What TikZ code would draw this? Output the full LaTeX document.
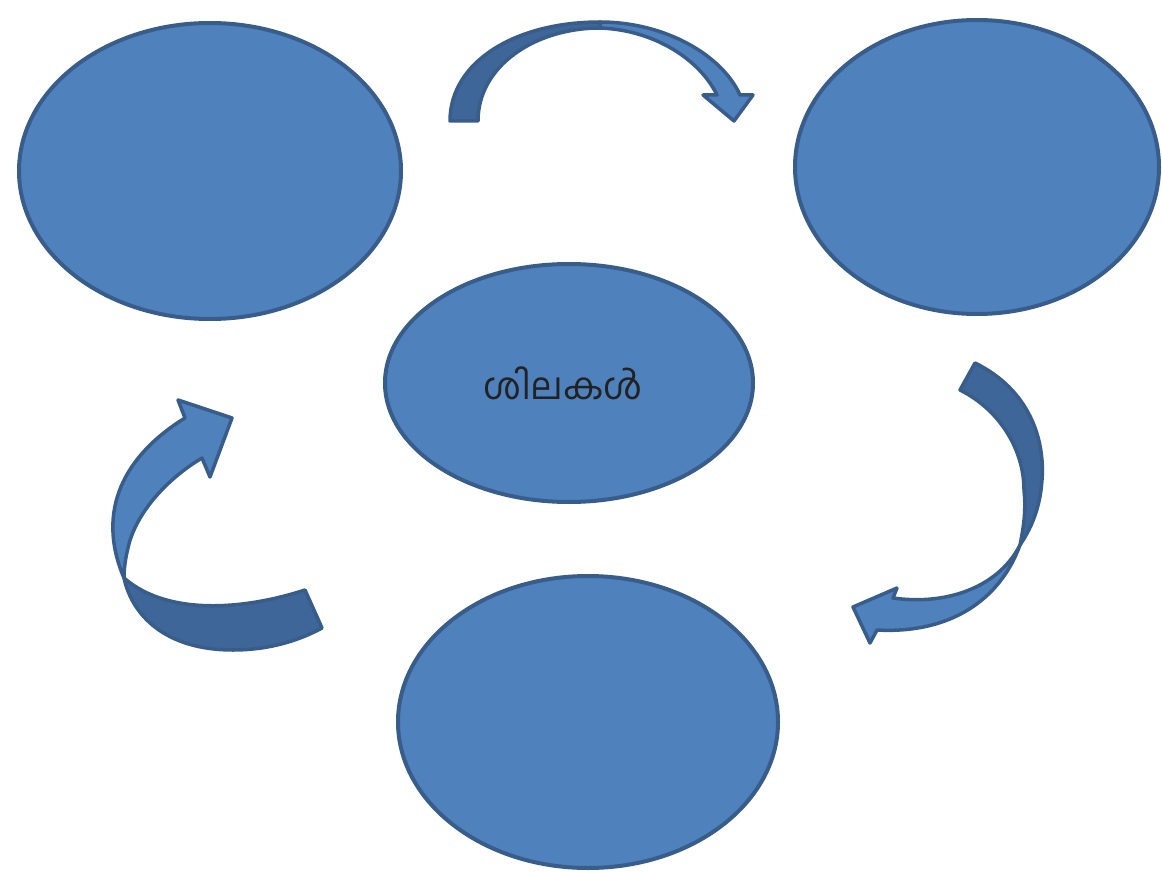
\documentclass[tikz,border=0pt]{standalone}
\usepackage{fontspec}
\newfontfamily\malfont[Script=Malayalam]{Hind Kochi}
\definecolor{fillblue}{HTML}{4F81BD}
\definecolor{edgeblue}{HTML}{385D8A}
\definecolor{backblue}{HTML}{3E6698}
\definecolor{txt}{HTML}{222222}
\begin{document}
\begin{tikzpicture}[x=1pt,y=-1pt,
  blob/.style={draw=edgeblue,fill=fillblue,line width=4pt},
  front/.style={draw=edgeblue,fill=fillblue,line width=3.5pt,line join=round},
  back/.style={draw=edgeblue,fill=backblue,line width=3.5pt,line join=round}]
\useasboundingbox (0,0) rectangle (1162,872);
% ellipses
\draw[blob] (210,171) ellipse [x radius=191,y radius=148];
\draw[blob] (977,167) ellipse [x radius=182,y radius=147];
\draw[blob] (569,383) ellipse [x radius=184,y radius=119];
\draw[blob] (588,722) ellipse [x radius=190,y radius=146];
\node[font=\malfont\fontsize{37}{44}\selectfont,text=txt] (t) at (563,383) {ശിലകൾ};
% top arrow
\draw[front] (600,22) .. controls (665,22) and (722,55) .. (740,95)
  -- (753,95) -- (734,121) -- (703,95) -- (717,95)
  .. controls (700,60) and (655,30) .. (600,28) -- cycle;
\draw[back] (450,121) .. controls (450,62) and (515,22) .. (600,22)
  -- (600,28) .. controls (535,28) and (478,66) .. (478,121) -- cycle;
% right arrow
\draw[front] (1020,545) .. controls (1000,600) and (950,634) .. (877,630)
  -- (870,643) -- (853,607) -- (897,588) -- (893,598)
  .. controls (950,606) and (1000,585) .. (1020,545) -- cycle;
\draw[back] (975,363) .. controls (1030,390) and (1045,440) .. (1042,480)
  .. controls (1040,510) and (1030,530) .. (1020,545)
  .. controls (1024,525) and (1026,510) .. (1024,490)
  .. controls (1024,450) and (1000,410) .. (960,390) -- cycle;
% left arrow
\draw[front] (124,578) .. controls (95,510) and (125,455) .. (185,418)
  -- (178,400) -- (232,418) -- (210,477) -- (202,458)
  .. controls (165,480) and (135,515) .. (128,548)
  .. controls (125,560) and (124,570) .. (124,578) -- cycle;
\draw[back] (305,590) .. controls (250,608) and (170,618) .. (124,578)
  .. controls (132,615) and (165,650) .. (233,650)
  .. controls (270,650) and (300,640) .. (322,628) -- cycle;
\end{tikzpicture}
\end{document}
